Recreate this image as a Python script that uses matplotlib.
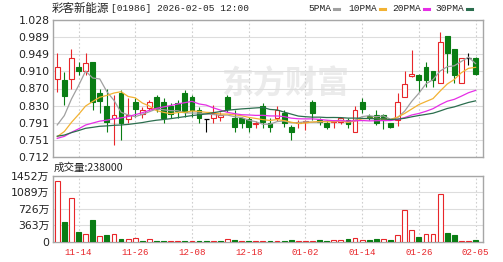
import matplotlib
matplotlib.use("Agg")
import matplotlib.pyplot as plt
import numpy as np
import pandas as pd
from matplotlib.lines import Line2D

plt.rcParams["font.family"] = ["DejaVu Sans", "Noto Sans CJK SC"]

TITLE_NAME = "彩客新能源"
TITLE_INFO = "[01986] 2026-02-05 12:00"
VOLUME_TEXT = "成交量:238000"
WATERMARK = "东方财富"

dates = [
    "11-11", "11-12", "11-13", "11-14", "11-17", "11-18", "11-19", "11-20", "11-21", "11-24",
    "11-25", "11-26", "11-27", "11-28", "12-01", "12-02", "12-03", "12-04", "12-05", "12-08",
    "12-09", "12-10", "12-11", "12-12", "12-15", "12-16", "12-17", "12-18", "12-19", "12-22",
    "12-23", "12-24", "12-29", "12-30", "12-31", "01-02", "01-05", "01-06", "01-07", "01-08",
    "01-09", "01-12", "01-13", "01-14", "01-15", "01-16", "01-19", "01-20", "01-21", "01-22",
    "01-23", "01-26", "01-27", "01-28", "01-29", "01-30", "02-02", "02-03", "02-04", "02-05",
]
tick_dates = ["11-14", "11-26", "12-08", "12-18", "01-02", "01-14", "01-26", "02-05"]

open_ = [
    0.891, 0.890, 0.891, 0.920, 0.911, 0.930, 0.859, 0.830, 0.801, 0.859,
    0.800, 0.840, 0.811, 0.824, 0.850, 0.840, 0.830, 0.837, 0.859, 0.850,
    0.820, 0.800, 0.801, 0.805, 0.850, 0.801, 0.801, 0.799, 0.788, 0.830,
    0.790, 0.801, 0.813, 0.782, 0.790, 0.792, 0.840, 0.797, 0.790, 0.793,
    0.793, 0.797, 0.770, 0.840, 0.806, 0.809, 0.809, 0.790, 0.797, 0.851,
    0.899, 0.901, 0.920, 0.910, 0.882, 0.991, 0.960, 0.882, 0.940, 0.940,
]
high = [
    0.951, 0.909, 0.960, 0.932, 0.953, 0.930, 0.870, 0.870, 0.855, 0.866,
    0.847, 0.847, 0.828, 0.843, 0.855, 0.847, 0.836, 0.843, 0.866, 0.855,
    0.828, 0.800, 0.832, 0.815, 0.855, 0.820, 0.805, 0.805, 0.796, 0.836,
    0.801, 0.829, 0.820, 0.785, 0.797, 0.797, 0.843, 0.801, 0.797, 0.797,
    0.805, 0.801, 0.829, 0.847, 0.811, 0.820, 0.811, 0.790, 0.860, 0.910,
    0.959, 0.903, 0.932, 0.910, 1.001, 0.991, 0.960, 0.940, 0.951, 0.942,
]
low = [
    0.863, 0.832, 0.870, 0.901, 0.901, 0.820, 0.813, 0.770, 0.740, 0.751,
    0.790, 0.805, 0.801, 0.820, 0.815, 0.790, 0.801, 0.801, 0.805, 0.805,
    0.790, 0.770, 0.790, 0.795, 0.815, 0.770, 0.778, 0.770, 0.780, 0.778,
    0.770, 0.795, 0.782, 0.751, 0.780, 0.775, 0.797, 0.785, 0.776, 0.780,
    0.787, 0.780, 0.770, 0.813, 0.797, 0.786, 0.776, 0.780, 0.783, 0.851,
    0.897, 0.863, 0.874, 0.874, 0.882, 0.905, 0.882, 0.882, 0.924, 0.900,
]
close = [
    0.920, 0.853, 0.940, 0.910, 0.928, 0.840, 0.842, 0.793, 0.810, 0.790,
    0.810, 0.822, 0.820, 0.840, 0.822, 0.801, 0.811, 0.819, 0.816, 0.820,
    0.801, 0.800, 0.813, 0.808, 0.822, 0.782, 0.790, 0.782, 0.791, 0.793,
    0.782, 0.820, 0.790, 0.770, 0.793, 0.794, 0.813, 0.793, 0.782, 0.795,
    0.801, 0.788, 0.820, 0.822, 0.805, 0.790, 0.797, 0.782, 0.840, 0.880,
    0.903, 0.890, 0.890, 0.890, 0.978, 0.953, 0.901, 0.940, 0.940, 0.903,
]
# closes before the visible window, only used for the moving averages
prior_close = [
    0.775, 0.772, 0.768, 0.770, 0.773, 0.769, 0.766, 0.770, 0.768, 0.769,
    0.760, 0.755, 0.752, 0.748, 0.750, 0.753, 0.749, 0.747, 0.746, 0.750,
    0.735, 0.730, 0.728, 0.732, 0.735, 0.745, 0.750, 0.755, 0.760,
]
# volume in 万 shares
volume = [
    1340, 431, 954, 208, 172, 469, 112, 134, 172, 45,
    45, 67, 22, 45, 22, 22, 12, 12, 12, 22,
    12, 22, 22, 12, 56, 40, 12, 12, 10, 12,
    15, 12, 15, 30, 12, 15, 18, 30, 20, 30,
    30, 60, 82, 30, 30, 55, 45, 25, 150, 692,
    246, 96, 156, 156, 1050, 185, 141, 8, 6, 23.8,
]

price_ticks = [0.712, 0.751, 0.791, 0.830, 0.870, 0.910, 0.949, 0.989, 1.028]
vol_ticks = [0, 363, 726, 1089, 1452]
vol_labels = ["0", "363万", "726万", "1089万", "1452万"]

ma_periods = [5, 10, 20, 30]
ma_names = ["5PMA", "10PMA", "20PMA", "30PMA"]
ma_colors = ["#a0a0a0", "#f2b233", "#e62ee6", "#2b6e4e"]

RED = "#e8262a"
GREEN = "#0a7d14"
GRID = "#dddddd"
FRAME = "#a6a6a6"

W, H = 503, 262
fig = plt.figure(figsize=(W / 100, H / 100), dpi=100)
fig.patch.set_facecolor("white")

ax_p = fig.add_axes([53 / W, (H - 157) / H, 430 / W, 137 / H])
ax_v = fig.add_axes([53 / W, (H - 241.5) / H, 430 / W, 65.5 / H])

x = np.arange(len(close))
o = np.array(open_)
c = np.array(close)
hi = np.array(high)
lo = np.array(low)

# candles
up = c > o
down = c < o
flat = c == o
body_w = 0.68
ax_p.vlines(x[up], lo[up], hi[up], color=RED, lw=0.8, zorder=2)
ax_p.vlines(x[down], lo[down], hi[down], color=GREEN, lw=0.8, zorder=2)
ax_p.vlines(x[flat], lo[flat], hi[flat], color="black", lw=0.8, zorder=2)
ax_p.bar(x[up], (c - o)[up], bottom=o[up], width=body_w, facecolor="white",
         edgecolor=RED, linewidth=0.8, zorder=3)
ax_p.bar(x[down], (o - c)[down], bottom=c[down], width=body_w, facecolor=GREEN,
         edgecolor=GREEN, linewidth=0.8, zorder=3)
ax_p.hlines(c[flat], x[flat] - body_w / 2, x[flat] + body_w / 2, color="black", lw=0.9, zorder=3)

# moving averages
all_close = pd.Series(prior_close + close)
n_prior = len(prior_close)
for period, color in zip(ma_periods, ma_colors):
    ma = all_close.rolling(period).mean().to_numpy()[n_prior:]
    ax_p.plot(x, ma, color=color, lw=0.9, zorder=4)

ax_p.text(0.54, 0.53, WATERMARK, transform=ax_p.transAxes, ha="center", va="center",
          fontsize=23, fontweight="bold", color="#ebebeb", family="Noto Sans CJK SC", zorder=0.5)

# volume
all_c = np.array(prior_close[-1:] + close)
vol_up = all_c[1:] >= all_c[:-1]
v = np.array(volume)
ax_v.bar(x[vol_up], v[vol_up], width=body_w, facecolor="white", edgecolor=RED, linewidth=0.8, zorder=3)
ax_v.bar(x[~vol_up], v[~vol_up], width=body_w, facecolor=GREEN, edgecolor=GREEN, linewidth=0.8, zorder=3)

tick_pos = [dates.index(d) for d in tick_dates]
for ax in (ax_p, ax_v):
    ax.set_xlim(-0.6, 60.05)
    ax.set_xticks(tick_pos)
    ax.set_axisbelow(True)
    ax.grid(axis="y", color=GRID, lw=0.8)
    ax.grid(axis="x", color="#cfcfcf", lw=0.8, linestyle=(0, (1.5, 2)))
    for s in ax.spines.values():
        s.set_color(FRAME)
        s.set_linewidth(1.0)
    ax.tick_params(length=0, pad=2.5, labelsize=7.8, colors="#222222")

ax_p.set_ylim(price_ticks[0], price_ticks[-1])
ax_p.set_yticks(price_ticks)
ax_p.set_yticklabels([f"{t:.3f}" for t in price_ticks])
ax_p.tick_params(axis="x", labelbottom=False)

ax_v.set_ylim(0, vol_ticks[-1])
ax_v.set_yticks(vol_ticks)
ax_v.set_yticklabels(vol_labels)
ax_v.set_xticklabels(tick_dates, family="Liberation Mono", fontsize=6.6, color=RED)
ax_v.tick_params(axis="x", pad=5)

# header texts
fig.text(52 / W, 1 - 8.5 / H, TITLE_NAME, family="Noto Sans CJK SC", fontsize=8.3,
         va="center", ha="left", color="#222222")
fig.text(111 / W, 1 - 8.5 / H, TITLE_INFO, family="Liberation Mono", fontsize=6.8,
         va="center", ha="left", color="#222222")
fig.text(54 / W, 1 - 168 / H, VOLUME_TEXT, family=["Noto Sans CJK SC"], fontsize=7.6,
         va="center", ha="left", color="#222222")

legend_x = [308, 348, 392, 435]
for lx, name, color in zip(legend_x, ma_names, ma_colors):
    t = fig.text(lx / W, 1 - 8.5 / H, name, family="Liberation Mono", fontsize=6.8,
                 va="center", ha="left", color="#222222")
    dash_x = lx + 5.7 * len(name) + 3
    fig.add_artist(Line2D([dash_x / W, (dash_x + 5) / W], [1 - 8.5 / H, 1 - 8.5 / H],
                          color=color, lw=2.2, transform=fig.transFigure))

fig.savefig("out.png", dpi=100, facecolor="white")
